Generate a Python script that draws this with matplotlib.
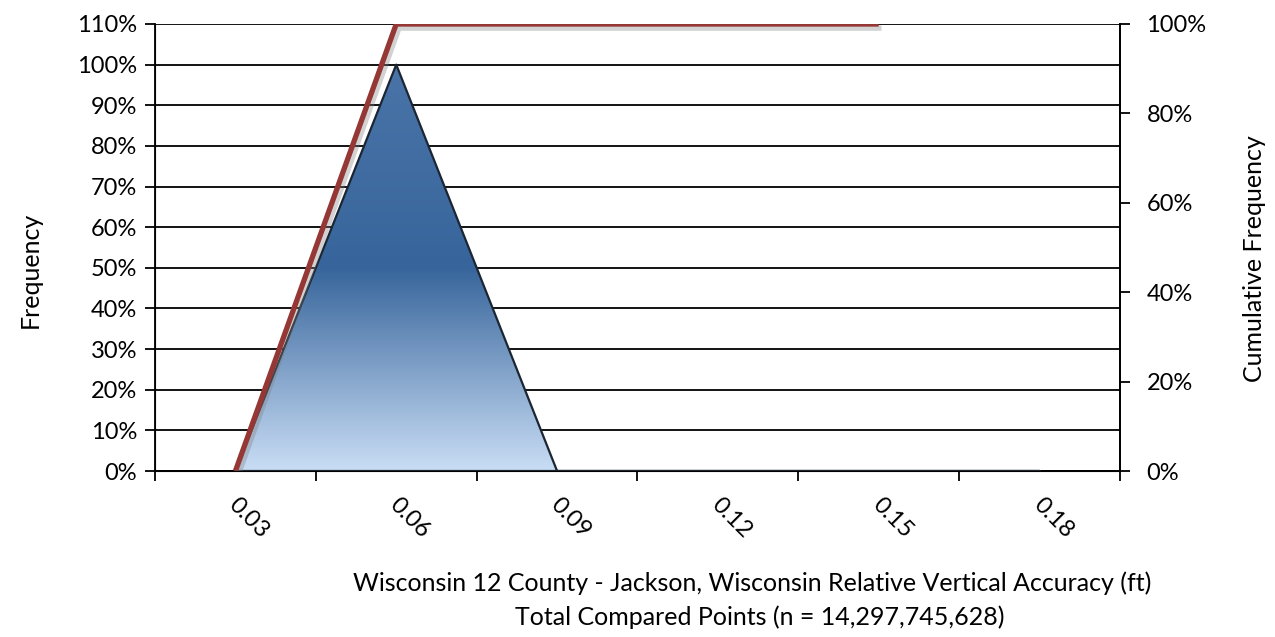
import numpy as np
import matplotlib
matplotlib.use("Agg")
import matplotlib.pyplot as plt
from matplotlib.colors import LinearSegmentedColormap
from matplotlib import patheffects as pe

# Datos
categorias = ["0.03", "0.06", "0.09", "0.12", "0.15", "0.18"]
frecuencia = [0.0, 1.0, 0.0, 0.0, 0.0, 0.0]
acumulada = [0.0, 1.0, 1.0, 1.0, 1.0, np.nan]

plt.rcParams["font.family"] = ["Lato", "DejaVu Sans"]

fig = plt.figure(figsize=(12.75, 6.37), dpi=100)
ax = fig.add_axes([155 / 1275, 1 - 471 / 637, (1120 - 155) / 1275, (471 - 24) / 637])
x = np.arange(len(categorias))

# Area con degradado
poly = ax.fill_between(x, frecuencia, 0, facecolor="none", edgecolor="#1c2633",
                       linewidth=1.6, zorder=3)
cmap = LinearSegmentedColormap.from_list(
    "azul", [(0.0, "#c9ddf5"), (0.5, "#37659b"), (1.0, "#4a74a8")])
grad = np.linspace(0, 1, 256).reshape(-1, 1)
img = ax.imshow(grad, cmap=cmap, origin="lower", aspect="auto",
                extent=[-0.5, len(categorias) - 0.5, 0, 1.0], zorder=2)
img.set_clip_path(poly.get_paths()[0], transform=ax.transData)

ax.set_xlim(-0.5, len(categorias) - 0.5)
ax.set_ylim(0, 1.1)
ax.set_yticks(np.arange(0, 1.101, 0.1))
ax.set_yticklabels([f"{int(round(v * 100))}%" for v in np.arange(0, 1.101, 0.1)])
ax.yaxis.grid(True, color="black", linewidth=1.3)
ax.set_axisbelow(True)

ax.set_xticks(np.arange(-0.5, len(categorias), 1.0))
ax.set_xticklabels([])
ax.tick_params(axis="x", length=7, width=1.3, direction="out")
ax.tick_params(axis="y", length=7, width=1.3, direction="out", labelsize=17, pad=6)
for i, c in enumerate(categorias):
    ax.text(i - 0.02, -0.075, c, rotation=-45, rotation_mode="anchor", ha="left", va="center",
            fontsize=17, transform=ax.transData, clip_on=False)

ax.spines["top"].set_visible(False)
for s in ["left", "bottom", "right"]:
    ax.spines[s].set_linewidth(1.3)

ax.set_ylabel("Frequency", fontsize=18)
ax.yaxis.set_label_coords(-0.117, 0.45)

# Eje secundario
ax2 = ax.twinx()
ax2.plot(x, acumulada, color="#953735", linewidth=3.8, zorder=5, solid_capstyle="butt",
         path_effects=[pe.SimpleLineShadow(offset=(2, -3), shadow_color="gray", alpha=0.35),
                       pe.Normal()])
ax2.set_ylim(0, 1.0)
ax2.set_yticks(np.arange(0, 1.01, 0.2))
ax2.set_yticklabels([f"{int(round(v * 100))}%" for v in np.arange(0, 1.01, 0.2)])
ax2.tick_params(axis="y", length=7, width=1.3, direction="out", labelsize=17, pad=12)
ax2.spines["top"].set_visible(False)
ax2.spines["right"].set_linewidth(1.3)
ax2.set_ylabel("Cumulative Frequency", fontsize=18)
ax2.yaxis.set_label_coords(1.127, 0.476)

fig.text(752 / 1275, 1 - 583 / 637,
         "Wisconsin 12 County - Jackson, Wisconsin Relative Vertical Accuracy (ft)",
         ha="center", va="center", fontsize=18)
fig.text(760 / 1275, 1 - 617 / 637, "Total Compared Points (n = 14,297,745,628)",
         ha="center", va="center", fontsize=18)

fig.savefig("out.png", dpi=100)
plt.close(fig)
